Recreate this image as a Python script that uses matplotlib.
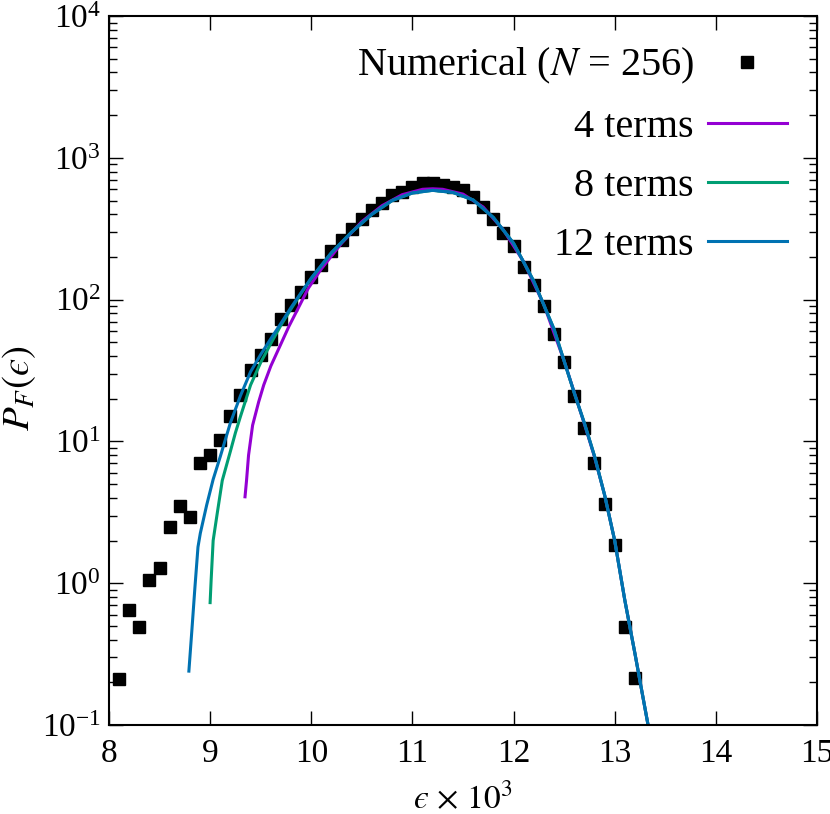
import numpy as np
import matplotlib
matplotlib.use('Agg')
import matplotlib.pyplot as plt

plt.rcParams['font.family'] = 'serif'
plt.rcParams['font.serif'] = ['Liberation Serif', 'DejaVu Serif']
plt.rcParams['mathtext.fontset'] = 'stix'

# Numerical histogram (N = 256)
eps_num = [8.1, 8.2, 8.3, 8.4, 8.5, 8.6, 8.7, 8.8, 8.9, 9.0, 9.1, 9.2, 9.3,
           9.4, 9.5, 9.6, 9.7, 9.8, 9.9, 10.0, 10.1, 10.2, 10.3, 10.4, 10.5,
           10.6, 10.7, 10.8, 10.9, 11.0, 11.1, 11.2, 11.3, 11.4, 11.5, 11.6,
           11.7, 11.8, 11.9, 12.0, 12.1, 12.2, 12.3, 12.4, 12.5, 12.6, 12.7,
           12.8, 12.9, 13.0, 13.1, 13.2]
p_num = [0.21, 0.65, 0.49, 1.06, 1.29, 2.5, 3.5, 2.95, 7.0, 7.98, 10.2, 15.2,
         21.4, 31.9, 40.7, 52.5, 72.6, 91.6, 114, 145, 175, 220, 263, 313,
         368, 428, 477, 547, 577, 626, 660, 660, 643, 626, 593, 532, 452, 368,
         294, 239, 171, 127, 90, 57, 36.5, 20.9, 12.4, 7.08, 3.62, 1.86, 0.49,
         0.213]

# 12 term expansion
eps_12 = [8.79, 8.82, 8.85, 8.88, 8.903, 8.966, 9.03, 9.1, 9.2, 9.3, 9.4, 9.5,
          9.6, 9.7, 9.8, 9.9, 10.0, 10.2, 10.4, 10.6, 10.8, 11.0, 11.2, 11.4,
          11.6, 11.8, 12.0, 12.2, 12.4, 12.6, 12.7, 12.8, 12.9, 13.0, 13.1,
          13.2, 13.33]
p_12 = [0.24, 0.47, 0.94, 1.8, 2.25, 3.56, 5.4, 7.8, 13.5, 21, 31, 41, 53, 68,
        88, 112, 142, 215, 300, 400, 500, 565, 590, 570, 505, 380, 250, 135,
        62, 22, 13.5, 7.9, 4.2, 2.0, 0.76, 0.32, 0.1]

# 8 term expansion
eps_8 = [9.0, 9.01, 9.03, 9.07, 9.12, 9.2, 9.25, 9.3, 9.4, 9.5, 9.6, 9.7,
         9.8, 9.9, 10.0, 10.2, 10.4, 10.6, 10.8, 11.0, 11.2, 11.4, 11.6, 11.8,
         12.0, 12.2, 12.4, 12.6, 12.7, 12.8, 12.9, 13.0, 13.1, 13.2, 13.33]
p_8 = [0.73, 1.05, 2.0, 3.1, 5.3, 8.5, 11.5, 15, 25, 36, 49, 66, 86, 111, 141,
       214, 300, 400, 500, 565, 590, 570, 505, 380, 250, 135, 62, 22, 13.5,
       7.9, 4.2, 2.0, 0.76, 0.32, 0.1]

# 4 term expansion
eps_4 = [9.345, 9.36, 9.38, 9.42, 9.48, 9.53, 9.6, 9.69, 9.78, 9.86, 9.97,
         10.1, 10.3, 10.5, 10.7, 10.9, 11.1, 11.2, 11.3, 11.5, 11.7, 11.9,
         12.1, 12.3, 12.5, 12.7, 12.8, 12.9, 13.0, 13.1, 13.2, 13.33]
p_4 = [4.07, 5.3, 8, 13, 19, 25, 34, 47, 65, 84, 120, 165, 250, 355, 460,
       550, 600, 605, 600, 555, 450, 310, 185, 92, 37, 13.3, 7.8, 4.2, 2.0,
       0.76, 0.32, 0.1]

fig = plt.figure(figsize=(8.3, 8.14), dpi=100)
ax = fig.add_axes([0.1313, 0.1093, 0.853, 0.871])

ax.plot(eps_num, p_num, 's', color='black', markersize=8, label='Numerical ($N$ = 256)')
ax.plot(eps_4, p_4, color='#9400D3', linewidth=2.2, label='4 terms')
ax.plot(eps_8, p_8, color='#009E73', linewidth=2.2, label='8 terms')
ax.plot(eps_12, p_12, color='#0072B2', linewidth=2.2, label='12 terms')

ax.set_yscale('log')
ax.set_xlim(8, 15)
ax.set_ylim(0.1, 1e4)
ax.set_xticks(range(8, 16))

ax.tick_params(which='both', direction='in', top=True, right=True, labelsize=24, width=1)
ax.tick_params(which='major', length=10)
ax.tick_params(which='minor', length=6)
ax.tick_params(axis='x', pad=10)
ax.tick_params(axis='y', pad=6)
for s in ax.spines.values():
    s.set_linewidth(1.5)

ax.set_xlabel('$\u03f5\\,\\times\\,10^3$', fontsize=24, labelpad=9)
ax.set_ylabel('$P_F(\u03f5)$', fontsize=28)
ax.yaxis.set_label_coords(-0.10, 0.475)

ax.legend(loc='upper right', frameon=False, markerfirst=False, fontsize=29,
          handlelength=1.95, handletextpad=0.35, labelspacing=0.55,
          borderaxespad=0.45, borderpad=0.3, numpoints=1)

fig.savefig('out.png', dpi=100)
